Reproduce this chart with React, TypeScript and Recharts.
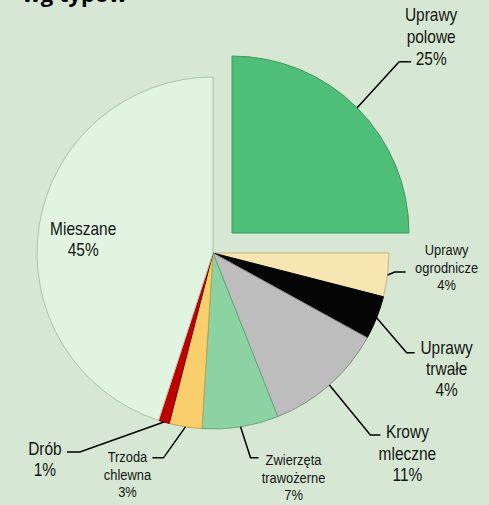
import React from 'react';
import { PieChart, Pie, Cell } from 'recharts';

// Struktura gospodarstw wg typów (udział %)
const names = [
  'Uprawy polowe',
  'Uprawy ogrodnicze',
  'Uprawy trwałe',
  'Krowy mleczne',
  'Zwierzęta trawożerne',
  'Trzoda chlewna',
  'Drób',
  'Mieszane',
];
const nameLines = [
  ['Uprawy', 'polowe'],
  ['Uprawy', 'ogrodnicze'],
  ['Uprawy', 'trwałe'],
  ['Krowy', 'mleczne'],
  ['Zwierzęta', 'trawożerne'],
  ['Trzoda', 'chlewna'],
  ['Drób'],
  ['Mieszane'],
];
const shares = [25, 4, 4, 11, 7, 3, 1, 45];
const colors = ['#4fbe78', '#f8e6b2', '#050505', '#bdbdbd', '#8dd2a2', '#f9cf6e', '#c00000', '#e0f4e0'];
const strokes = ['#3a9a5c', '#c9b47c', '#000000', '#8c8c8c', '#5fae79', '#c9a047', '#800000', '#a9c4a9'];

const data = names.map((name, i) => ({ name, value: shares[i] }));

const RAD = Math.PI / 180;
const FONT = '"Liberation Sans", Arial, sans-serif';

// leader line + text placement for each slice, relative to the slice edge
const labelCfg = [
  { ex: 42, ey: -46, hx: 12, tx: 20, ty: -47, lh: 22, fs: 18 },
  { ex: 7, ey: -3, hx: 11, tx: 41, ty: -22, lh: 17.5, fs: 15 },
  { ex: 30, ey: 35, hx: 8, tx: 32, ty: -5, lh: 21, fs: 18 },
  { ex: 41, ey: 50, hx: 10, tx: 27, ty: -3, lh: 21.5, fs: 18 },
  { ex: 10, ey: 31, hx: 8, tx: 35, ty: 2, lh: 17.5, fs: 15 },
  { ex: -22, ey: 31, hx: -11, tx: -25, ty: -1, lh: 17.5, fs: 15 },
  { ex: -84, ey: 30, hx: -13, tx: -22, ty: -3, lh: 21, fs: 18 },
  { ex: 0, ey: 0, hx: 0, tx: 44, ty: 3.5, lh: 21, fs: 18, inside: true },
];

const makeLabel = (only: (i: number) => boolean) => (props: any) => {
  const { cx, cy, midAngle, outerRadius, index } = props;
  if (!only(index)) return null;
  const c = labelCfg[index];
  const px = cx + outerRadius * Math.cos(-midAngle * RAD);
  const py = cy + outerRadius * Math.sin(-midAngle * RAD);
  const bx = px + c.ex;
  const by = py + c.ey;
  const endX = bx + c.hx;
  const textX = c.inside ? px + c.tx : endX + c.tx;
  const textY = c.inside ? py + c.ty : by + c.ty;
  const lines = [...nameLines[index], `${shares[index]}%`];
  return (
    <g>
      {!c.inside && (
        <polyline
          points={`${px},${py} ${bx},${by} ${endX},${by}`}
          fill="none"
          stroke="#000"
          strokeWidth={1.5}
        />
      )}
      {/* narrow face imitation */}
      <g transform={`translate(${textX},${textY}) scale(0.86,1)`}>
        <text
          x={0}
          y={0}
          textAnchor="middle"
          dominantBaseline="central"
          fontFamily={FONT}
          fontSize={c.fs}
          fill="#151515"
        >
          {lines.map((l, k) => (
            <tspan key={k} x={0} y={k * c.lh}>
              {l}
            </tspan>
          ))}
        </text>
      </g>
    </g>
  );
};

const App: React.FC = () => {
  return (
    <div
      style={{
        position: 'absolute',
        left: 0,
        top: 0,
        width: 489,
        height: 505,
        background: '#d6e8d3',
        overflow: 'hidden',
      }}
    >
      <div
        style={{
          position: 'absolute',
          left: 22,
          top: -22,
          fontFamily: '"Open Sans", "Noto Sans", sans-serif',
          fontWeight: 700,
          fontSize: 22,
          lineHeight: '30px',
          color: '#000',
        }}
      >
        wg typów
      </div>
      <PieChart width={489} height={505} margin={{ top: 0, right: 0, bottom: 0, left: 0 }}>
        {/* wszystkie segmenty poza wysuniętym */}
        <Pie
          data={data}
          dataKey="value"
          nameKey="name"
          cx={213}
          cy={253}
          outerRadius={176}
          startAngle={90}
          endAngle={-270}
          labelLine={false}
          label={makeLabel((i) => i !== 0)}
          isAnimationActive={false}
        >
          {data.map((d, i) => (
            <Cell
              key={d.name}
              fill={i === 0 ? 'none' : colors[i]}
              stroke={i === 0 ? 'none' : strokes[i]}
              strokeWidth={1}
            />
          ))}
        </Pie>
        {/* wysunięty segment: Uprawy polowe */}
        <Pie
          data={data}
          dataKey="value"
          nameKey="name"
          cx={232}
          cy={233}
          outerRadius={177}
          startAngle={90}
          endAngle={-270}
          labelLine={false}
          label={makeLabel((i) => i === 0)}
          isAnimationActive={false}
        >
          {data.map((d, i) => (
            <Cell
              key={d.name}
              fill={i === 0 ? colors[i] : 'none'}
              stroke={i === 0 ? strokes[i] : 'none'}
              strokeWidth={1}
            />
          ))}
        </Pie>
      </PieChart>
    </div>
  );
};

export default App;
